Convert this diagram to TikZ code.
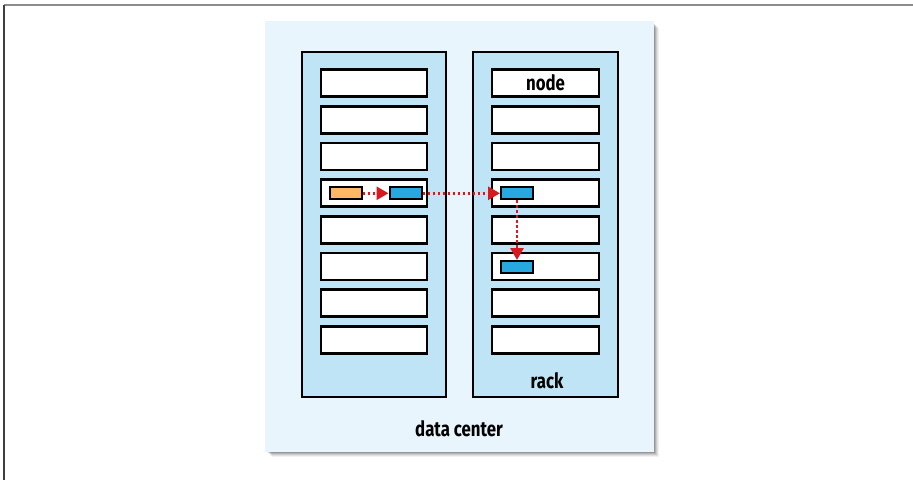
\documentclass[tikz,border=0pt]{standalone}
\usepackage{fontspec}
\setmainfont{Fira Sans}[FakeStretch=0.8]
\usetikzlibrary{arrows.meta}
\definecolor{dcfill}{HTML}{E8F5FC}
\definecolor{rackfill}{HTML}{BEE4F5}
\definecolor{orangebox}{HTML}{FDB863}
\definecolor{bluebox}{HTML}{27A8E0}
\definecolor{redarrow}{HTML}{D71920}
\tikzset{
  rackbox/.style={draw=black, fill=rackfill, line width=2.5pt, minimum width=144pt, minimum height=345pt, inner sep=0pt},
  nodebox/.style={draw=black, fill=white, line width=2.8pt, minimum width=106pt, minimum height=27pt, inner sep=0pt},
  orangechip/.style={draw=black, fill=orangebox, line width=2pt, minimum width=32pt, minimum height=12pt, inner sep=0pt},
  bluechip/.style={draw=black, fill=bluebox, line width=2pt, minimum width=32pt, minimum height=12pt, inner sep=0pt},
  flow/.style={draw=redarrow, line width=2.8pt, dash pattern=on 2.6pt off 2.4pt, -{Triangle[length=12pt,width=13pt,fill=redarrow]}},
  lbl/.style={font=\bfseries\fontsize{21}{22}\selectfont, inner sep=0pt}
}
\begin{document}
\begin{tikzpicture}[x=1pt,y=-1pt]
\useasboundingbox (0,0) rectangle (913,480);
\fill[white] (0,0) rectangle (913,480);
% frame
\draw[color=gray!90, line width=1.6pt] (4,5) -- (913,5);
\draw[color=black!75, line width=1.6pt] (4,5) -- (4,480);
% shadow of data center
\foreach \o/\op in {7/0.05,6/0.07,5/0.09,4/0.12,3/0.15}{
  \fill[black, opacity=\op] (265+\o,21+\o) rectangle (654+\o-2,452+\o-2);
}
\node[fill=dcfill, minimum width=389pt, minimum height=431pt, inner sep=0pt] (dc) at (459.5,236.5) {};
% racks
\node[rackbox] (rackL) at (374,224.5) {};
\node[rackbox, minimum width=145pt] (rackR) at (545.5,224.5) {};
% nodes
\foreach \i/\y in {1/83,2/119.7,3/156.4,4/193.1,5/229.8,6/266.5,7/303.2,8/340}{
  \node[nodebox] (L\i) at (374,\y) {};
  \node[nodebox, minimum width=107pt] (R\i) at (545.5,\y) {};
}
\node[lbl] (nodelabel) at (R1) {node};
\node[lbl] (racklabel) at (547,381) {rack};
\node[lbl] (dclabel) at (459,429) {data center};
% chips
\node[orangechip] (o1) at (345.5,193.3) {};
\node[bluechip] (b1) at (405.5,193.3) {};
\node[bluechip] (b2) at (517,193.3) {};
\node[bluechip] (b3) at (517,267) {};
% arrows
\draw[flow] (o1.east) -- (b1.west);
\draw[flow] (b1.east) -- (b2.west);
\draw[flow] (b2.south) -- (b3.north);
\end{tikzpicture}
\end{document}
